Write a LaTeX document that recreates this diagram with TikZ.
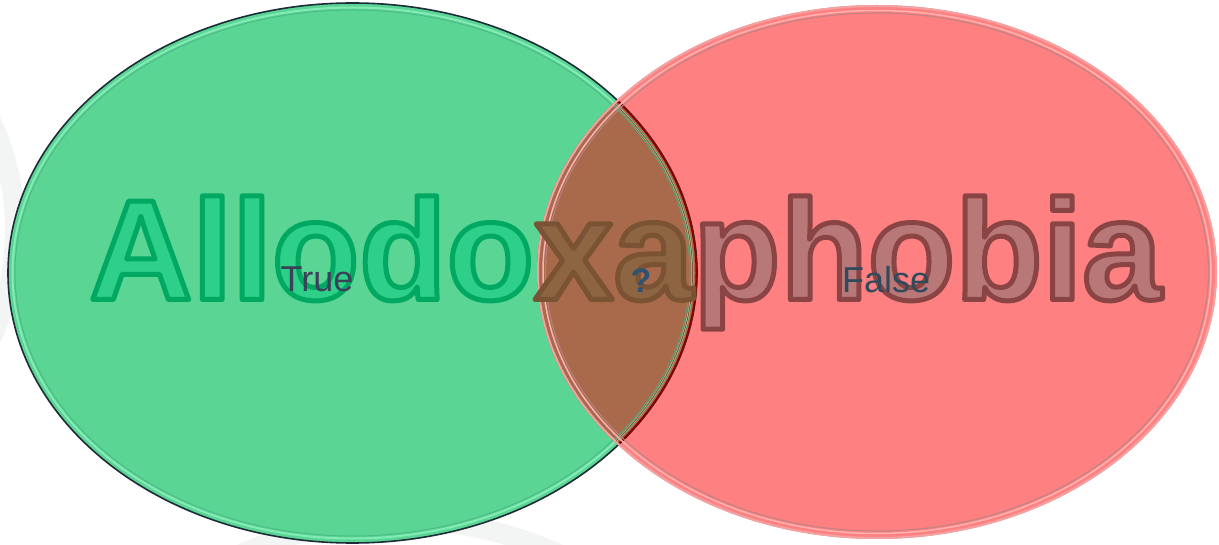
\documentclass[tikz,border=0pt]{standalone}
\usepackage{fontspec}
\setmainfont{Liberation Sans}
\newfontfamily\bigfont{Liberation Sans}[Scale=1]
\definecolor{gfill}{HTML}{5AD594}
\definecolor{rfill}{HTML}{FF8080}
\definecolor{ifill}{HTML}{A86A4A}
\definecolor{gtext}{HTML}{2DCF89}
\definecolor{xtext}{HTML}{8E6542}
\definecolor{ptext}{HTML}{B87878}
\definecolor{truec}{HTML}{3C4058}
\definecolor{falsec}{HTML}{2E4A5C}
\definecolor{qc}{HTML}{2E5272}
\definecolor{gedge}{HTML}{1C2C38}
\definecolor{ghi}{HTML}{84EAB6}
\definecolor{glo}{HTML}{48B07F}
\definecolor{redge}{HTML}{F2A2A2}
\definecolor{rhi}{HTML}{FFB2B2}
\definecolor{rlo}{HTML}{B88484}
\definecolor{bgarc}{HTML}{F3F4F4}
\newcommand\outlseg[3]{{\color{#1}\special{pdf:literal direct #2 RG 5 w 1 j 2 Tr}#3}}
\begin{document}
\begin{tikzpicture}[x=1bp,y=-1bp,
  lbl/.style={inner sep=0pt,anchor=base west,font=\fontsize{36bp}{40bp}\selectfont},
  bigtxt/.style={inner sep=0pt,anchor=base west,font=\bfseries\fontsize{143bp}{150bp}\selectfont}]
\useasboundingbox (0,0) rectangle (1219,545);
\fill[white] (0,0) rectangle (1219,545);
% faint background arcs
\begin{scope}
\clip (0,0) rectangle (1219,545);
\draw[bgarc,line width=20bp] (-160,230) ellipse [x radius=175, y radius=215];
\draw[bgarc,line width=20bp] (400,905) circle [radius=385];
\end{scope}
% ellipses
\fill[gfill] (352.5,273) ellipse [x radius=344.5, y radius=270];
\fill[rfill] (877,272) ellipse [x radius=340, y radius=267];
\begin{scope}
\clip (352.5,273) ellipse [x radius=344.5, y radius=270];
\fill[ifill] (877,272) ellipse [x radius=340, y radius=267];
\end{scope}
% rims
\begin{scope}
\clip (0,0) rectangle (1219,545);
\draw[ghi,line width=2bp] (352.5,273) ellipse [x radius=340, y radius=265.5];
\draw[glo,line width=1bp,opacity=0.7] (352.5,273) ellipse [x radius=337.5, y radius=263];
\draw[gedge,line width=1.6bp] (352.5,273) ellipse [x radius=344.5, y radius=270];
\end{scope}
\begin{scope}
\clip (877,272) ellipse [x radius=340, y radius=267];
\draw[ifill!80!black,line width=1bp] (352.5,273) ellipse [x radius=340, y radius=265.5];
\draw[red!55!black,line width=2bp] (352.5,273) ellipse [x radius=344, y radius=269.5];
\end{scope}
\draw[redge,line width=2bp] (877,272) ellipse [x radius=339, y radius=266];
\draw[rhi,line width=1.5bp] (877,272) ellipse [x radius=334, y radius=261.5];
\draw[rlo,line width=1.2bp,opacity=0.8] (877,272) ellipse [x radius=331.5, y radius=259];
% big word
\node[bigtxt] (word) at (89,299.5) {\outlseg{gtext}{0 0.659 0.384}{Allodo}\outlseg{xtext}{0.478 0.322 0.204}{xa}\outlseg{ptext}{0.541 0.267 0.267}{phobia}\special{pdf:literal direct 0 Tr 1 w}};
% labels
\node[lbl,text=truec] (true) at (280.5,292) {True};
\node[lbl,text=falsec] (false) at (842,293) {False};
\node[inner sep=0pt,anchor=base,text=qc,font=\bfseries\fontsize{34bp}{38bp}\selectfont] (q) at (641,293) {?};
\end{tikzpicture}
\end{document}
